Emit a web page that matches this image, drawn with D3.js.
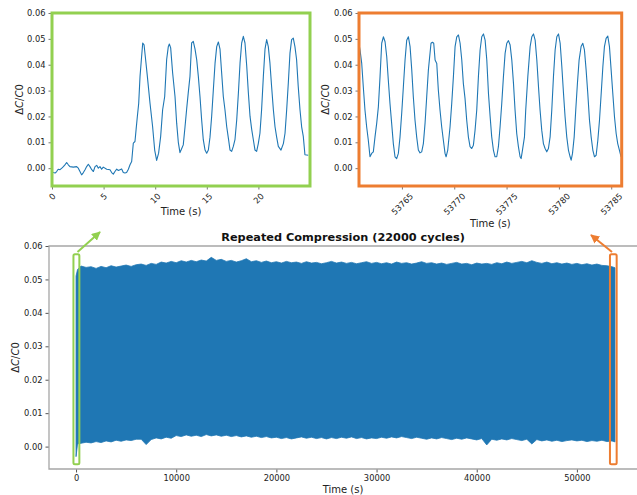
<!DOCTYPE html>
<html>
<head>
<meta charset="utf-8">
<script src="https://cdn.jsdelivr.net/npm/d3@7"></script>
<style>
  body { margin: 0; background: #fff; }
  svg { display: block; font-family: "DejaVu Sans", sans-serif; }
  .tick text { fill: #222; }
</style>
</head>
<body>
<svg id="chart" width="637" height="495"></svg>
<script>
// ---- data ----
// whole run: sampled envelope of the dense oscillation (time in s)
const mainTime = [0, 150, 500, 1000, 1500, 2000, 2500, 3000, 3500, 4000, 4500, 5000, 5500, 6000, 6500, 7000, 7500, 8000, 8500, 9000, 9500,
  10000, 10500, 11000, 11500, 12000, 12500, 13000, 13500, 14000, 14500, 15000, 15500, 16000, 16500, 17000, 17500, 18000, 18500, 19000, 19500,
  20000, 20500, 21000, 21500, 22000, 22500, 23000, 23500, 24000, 24500, 25000, 25500, 26000, 26500, 27000, 27500, 28000, 28500, 29000, 29500,
  30000, 30500, 31000, 31500, 32000, 32500, 33000, 33500, 34000, 34500, 35000, 35500, 36000, 36500, 37000, 37500, 38000, 38500, 39000, 39500,
  40000, 40500, 41000, 41500, 42000, 42500, 43000, 43500, 44000, 44500, 45000, 45500, 46000, 46500, 47000, 47500, 48000, 48500, 49000, 49500,
  50000, 50500, 51000, 51500, 52000, 52500, 53000, 53500, 53800];
const mainUpper = [0.0510, 0.0530, 0.0540, 0.0536, 0.0538, 0.0533, 0.0539, 0.0535, 0.0541, 0.0537, 0.0540, 0.0543, 0.0539, 0.0544, 0.0546, 0.0542, 0.0548, 0.0545, 0.0552, 0.0549, 0.0554,
  0.0550, 0.0556, 0.0552, 0.0557, 0.0553, 0.0558, 0.0555, 0.0566, 0.0557, 0.0560, 0.0554, 0.0557, 0.0552, 0.0556, 0.0562, 0.0553, 0.0556, 0.0551, 0.0555, 0.0550,
  0.0553, 0.0549, 0.0554, 0.0550, 0.0552, 0.0548, 0.0553, 0.0549, 0.0551, 0.0547, 0.0550, 0.0554, 0.0549, 0.0552, 0.0548, 0.0551, 0.0547, 0.0550, 0.0553, 0.0548,
  0.0551, 0.0547, 0.0550, 0.0546, 0.0552, 0.0548, 0.0550, 0.0546, 0.0549, 0.0553, 0.0548, 0.0550, 0.0546, 0.0549, 0.0545, 0.0548, 0.0551, 0.0546, 0.0548, 0.0544,
  0.0549, 0.0546, 0.0548, 0.0545, 0.0550, 0.0547, 0.0552, 0.0548, 0.0551, 0.0554, 0.0550, 0.0556, 0.0551, 0.0548, 0.0552, 0.0547, 0.0550, 0.0546, 0.0549, 0.0545,
  0.0548, 0.0544, 0.0547, 0.0543, 0.0546, 0.0542, 0.0541, 0.0538, 0.0535];
const mainLower = [-0.0030, 0.0008, 0.0010, 0.0013, 0.0011, 0.0015, 0.0012, 0.0017, 0.0014, 0.0019, 0.0016, 0.0020, 0.0018, 0.0022, 0.0022, 0.0006, 0.0021, 0.0026, 0.0023, 0.0028, 0.0025,
  0.0033, 0.0030, 0.0035, 0.0031, 0.0034, 0.0030, 0.0036, 0.0032, 0.0035, 0.0031, 0.0034, 0.0030, 0.0033, 0.0029, 0.0032, 0.0028, 0.0031, 0.0027, 0.0030, 0.0026,
  0.0028, 0.0024, 0.0027, 0.0023, 0.0026, 0.0029, 0.0025, 0.0028, 0.0024, 0.0027, 0.0023, 0.0027, 0.0024, 0.0028, 0.0025, 0.0029, 0.0024, 0.0027, 0.0023, 0.0026,
  0.0024, 0.0028, 0.0025, 0.0029, 0.0026, 0.0030, 0.0027, 0.0024, 0.0028, 0.0025, 0.0022, 0.0026, 0.0023, 0.0027, 0.0024, 0.0021, 0.0025, 0.0022, 0.0026, 0.0023,
  0.0020, 0.0024, 0.0005, 0.0022, 0.0019, 0.0023, 0.0020, 0.0024, 0.0021, 0.0018, 0.0022, 0.0008, 0.0021, 0.0017, 0.0020, 0.0016, 0.0019, 0.0015, 0.0018, 0.0020,
  0.0017, 0.0019, 0.0015, 0.0018, 0.0016, 0.0019, 0.0015, 0.0017, 0.0014];

// first seconds of the run (left inset)
const startTime = [0.00, 0.13, 0.30, 0.45, 0.60, 0.78, 0.95, 1.10, 1.25, 1.42, 1.58, 1.74, 2.07, 2.39, 2.55, 2.71, 2.87, 3.04, 3.20, 3.36, 3.52, 3.68, 3.85, 4.01,
  4.17, 4.33, 4.49, 4.65, 4.81, 4.97, 5.30, 5.62, 5.78, 5.94, 6.10, 6.27, 6.43, 6.59, 6.75, 6.91, 7.07, 7.23, 7.40, 7.56, 7.72, 7.88, 8.04, 8.15, 8.27, 8.40,
  8.53, 8.66, 8.79, 8.92, 9.04, 9.24, 9.50, 9.75, 9.95, 10.14, 10.33, 10.53, 10.72, 10.92, 11.11, 11.27, 11.37, 11.50, 11.69, 11.92, 12.08, 12.24, 12.40, 12.56,
  12.72, 12.89, 13.05, 13.20, 13.37, 13.53, 13.69, 13.86, 14.02, 14.18, 14.34, 14.50, 14.66, 14.83, 14.99, 15.15, 15.31, 15.47, 15.63, 15.80, 15.96, 16.12, 16.28,
  16.44, 16.60, 16.76, 16.93, 17.09, 17.25, 17.41, 17.57, 17.73, 17.90, 18.06, 18.22, 18.38, 18.54, 18.70, 18.87, 19.03, 19.19, 19.35, 19.51, 19.67, 19.83, 19.99,
  20.15, 20.31, 20.48, 20.64, 20.80, 20.96, 21.12, 21.28, 21.45, 21.61, 21.77, 21.93, 22.19, 22.42, 22.58, 22.74, 22.90, 23.06, 23.22, 23.38, 23.54, 23.70, 23.86,
  24.03, 24.19, 24.35, 24.51, 24.83];
const startDelta = [-0.0015, -0.0017, -0.0019, -0.0013, -0.0004, -0.0006, 0.0000, 0.0006, 0.0013, 0.0022, 0.0013, 0.0006, 0.0004, 0.0006, 0.0000, -0.0013, -0.0026, -0.0017, -0.0006, 0.0006, 0.0015, 0.0006, -0.0006, -0.0013,
  0.0006, 0.0011, 0.0000, 0.0006, -0.0004, 0.0004, -0.0004, -0.0006, -0.0017, -0.0023, -0.0013, -0.0004, -0.0009, -0.0006, -0.0003, -0.0017, -0.0019, -0.0017, -0.0004, 0.0013, 0.0026, 0.0097, 0.0103, 0.0150, 0.0200, 0.0250,
  0.0355, 0.0420, 0.0484, 0.0477, 0.0432, 0.0355, 0.0250, 0.0160, 0.0070, 0.0030, 0.0058, 0.0123, 0.0226, 0.0277, 0.0420, 0.0470, 0.0480, 0.0465, 0.0368, 0.0277, 0.0174, 0.0100, 0.0060, 0.0075,
  0.0090, 0.0160, 0.0230, 0.0290, 0.0355, 0.0484, 0.0490, 0.0460, 0.0420, 0.0355, 0.0277, 0.0187, 0.0110, 0.0070, 0.0058, 0.0070, 0.0120, 0.0200, 0.0300, 0.0406, 0.0470, 0.0488, 0.0460,
  0.0368, 0.0277, 0.0226, 0.0160, 0.0116, 0.0070, 0.0065, 0.0084, 0.0110, 0.0187, 0.0290, 0.0406, 0.0484, 0.0510, 0.0484, 0.0394, 0.0290, 0.0200, 0.0150, 0.0110, 0.0070, 0.0065, 0.0095,
  0.0135, 0.0226, 0.0355, 0.0460, 0.0497, 0.0470, 0.0406, 0.0316, 0.0226, 0.0160, 0.0120, 0.0084, 0.0070, 0.0095, 0.0135, 0.0226, 0.0330, 0.0445, 0.0497, 0.0503, 0.0470, 0.0420, 0.0316,
  0.0226, 0.0160, 0.0123, 0.0052, 0.0050];

// last seconds of the run (right inset)
const endTime = [53760.90, 53761.00, 53761.16, 53761.31, 53761.47, 53761.63, 53761.79, 53761.95, 53762.11, 53762.27, 53762.43, 53762.59, 53762.75, 53762.91,
  53763.07, 53763.23, 53763.39, 53763.55, 53763.70, 53763.86, 53764.02, 53764.18, 53764.34, 53764.50, 53764.66, 53764.82, 53764.98, 53765.14, 53765.30,
  53765.46, 53765.62, 53765.78, 53765.94, 53766.09, 53766.25, 53766.41, 53766.57, 53766.73, 53766.89, 53767.05, 53767.21, 53767.37, 53767.53, 53767.78,
  53767.91, 53768.04, 53768.17, 53768.33, 53768.48, 53768.64, 53768.80, 53768.96, 53769.12, 53769.22, 53769.38, 53769.60, 53769.76, 53769.92, 53770.08,
  53770.24, 53770.40, 53770.56, 53770.72, 53770.87, 53771.03, 53771.19, 53771.35, 53771.51, 53771.67, 53771.83, 53771.99, 53772.15, 53772.31, 53772.47,
  53772.63, 53772.79, 53772.95, 53773.11, 53773.27, 53773.43, 53773.58, 53773.74, 53773.90, 53774.06, 53774.22, 53774.38, 53774.54, 53774.70, 53774.86,
  53775.02, 53775.18, 53775.34, 53775.50, 53775.66, 53775.81, 53775.97, 53776.13, 53776.29, 53776.39, 53776.52, 53776.71, 53776.83, 53777.03, 53777.25,
  53777.41, 53777.57, 53777.73, 53777.89, 53778.05, 53778.20, 53778.36, 53778.52, 53778.68, 53778.84, 53779.00, 53779.16, 53779.32, 53779.48, 53779.64,
  53779.80, 53779.96, 53780.12, 53780.28, 53780.44, 53780.59, 53780.75, 53780.91, 53781.07, 53781.17, 53781.30, 53781.46, 53781.61, 53781.77, 53781.93,
  53782.12, 53782.28, 53782.44, 53782.60, 53782.76, 53782.92, 53783.08, 53783.24, 53783.40, 53783.56, 53783.72, 53783.88, 53784.04, 53784.20, 53784.35,
  53784.51, 53784.67, 53784.83, 53784.99, 53785.15, 53785.31, 53785.47, 53785.62, 53785.78, 53785.94];
const endDelta = [0.0480, 0.0457, 0.0405, 0.0315, 0.0225, 0.0160, 0.0108, 0.0044, 0.0057, 0.0063, 0.0121, 0.0173, 0.0237, 0.0354,
  0.0483, 0.0508, 0.0489, 0.0431, 0.0341, 0.0250, 0.0173, 0.0095, 0.0044, 0.0037, 0.0057, 0.0121, 0.0212, 0.0315, 0.0418,
  0.0495, 0.0508, 0.0470, 0.0380, 0.0276, 0.0186, 0.0121, 0.0070, 0.0059, 0.0063, 0.0095, 0.0173, 0.0276, 0.0380, 0.0483,
  0.0487, 0.0483, 0.0418, 0.0405, 0.0302, 0.0225, 0.0160, 0.0108, 0.0057, 0.0044, 0.0070, 0.0160, 0.0250, 0.0354, 0.0470,
  0.0508, 0.0515, 0.0483, 0.0418, 0.0328, 0.0270, 0.0186, 0.0121, 0.0083, 0.0076, 0.0089, 0.0147, 0.0225, 0.0354, 0.0457,
  0.0508, 0.0519, 0.0495, 0.0418, 0.0289, 0.0199, 0.0121, 0.0070, 0.0044, 0.0044, 0.0083, 0.0160, 0.0250, 0.0354, 0.0444,
  0.0483, 0.0493, 0.0476, 0.0418, 0.0328, 0.0225, 0.0134, 0.0083, 0.0044, 0.0037, 0.0070, 0.0121, 0.0225, 0.0354, 0.0470,
  0.0508, 0.0519, 0.0495, 0.0418, 0.0315, 0.0225, 0.0147, 0.0095, 0.0076, 0.0063, 0.0076, 0.0121, 0.0225, 0.0354, 0.0457,
  0.0508, 0.0519, 0.0483, 0.0392, 0.0289, 0.0199, 0.0121, 0.0070, 0.0044, 0.0031, 0.0057, 0.0121, 0.0225, 0.0328, 0.0418,
  0.0470, 0.0483, 0.0457, 0.0380, 0.0289, 0.0186, 0.0121, 0.0070, 0.0044, 0.0050, 0.0108, 0.0186, 0.0289, 0.0392, 0.0470,
  0.0502, 0.0511, 0.0470, 0.0380, 0.0289, 0.0199, 0.0134, 0.0095, 0.0070, 0.0044];

const mainTicksX = [0, 10000, 20000, 30000, 40000, 50000];
const deltaTicks = [0.00, 0.01, 0.02, 0.03, 0.04, 0.05, 0.06];
const startTicksX = [0, 5, 10, 15, 20];
const endTicksX = [53765, 53770, 53775, 53780, 53785];

// ---- styling ----
const lineColor = '#1f77b4';
const green = '#92d050';
const orange = '#ed7d31';
const tickFont = 8.3;

const svg = d3.select('#chart');

// draw a mathtext-like "ΔC/C0" label
function deltaLabel(g, x, y) {
  const t = g.append('text')
    .attr('transform', `translate(${x},${y}) rotate(-90)`)
    .attr('text-anchor', 'middle')
    .attr('font-size', 10)
    .attr('fill', '#222');
  t.append('tspan').text('Δ');
  t.append('tspan').attr('font-style', 'italic').text('C');
  t.append('tspan').text('/');
  t.append('tspan').attr('font-style', 'italic').text('C');
  t.append('tspan').text('0');
}

function styleAxis(sel, color) {
  sel.select('.domain').remove();
  sel.selectAll('.tick line').attr('stroke', color);
  sel.selectAll('.tick text').attr('font-size', tickFont).attr('font-family', 'DejaVu Sans');
}

// rotated tick labels, centred on tick like matplotlib rotation=45
function rotateLabels(sel) {
  sel.selectAll('.tick text').each(function () {
    const w = this.getComputedTextLength();
    const off = 6 + (w + tickFont) * 0.7071 / 2;
    d3.select(this)
      .attr('y', 0)
      .attr('dy', '0.32em')
      .attr('text-anchor', 'middle')
      .attr('transform', `translate(0,${off}) rotate(-45)`);
  });
}

// ---- main chart ----
const mx = d3.scaleLinear().domain([-2700, 56000]).range([49, 637]);
const my = d3.scaleLinear().domain([-0.0067, 0.06]).range([469, 246]);

const mainRows = mainTime.map((t, i) => ({ t, hi: mainUpper[i], lo: mainLower[i] }));

svg.append('path')
  .datum(mainRows)
  .attr('d', d3.area().x((d) => mx(d.t)).y0((d) => my(d.lo)).y1((d) => my(d.hi)))
  .attr('fill', lineColor)
  .attr('stroke', lineColor)
  .attr('stroke-width', 0.8);

svg.append('g')
  .attr('transform', 'translate(0,469)')
  .call(d3.axisBottom(mx).tickValues(mainTicksX).tickFormat(d3.format('d')).tickSize(3.5).tickPadding(3))
  .call((g) => styleAxis(g, '#555'));

svg.append('g')
  .attr('transform', 'translate(49,0)')
  .call(d3.axisLeft(my).tickValues(deltaTicks).tickFormat(d3.format('.2f')).tickSize(3.5).tickPadding(3))
  .call((g) => styleAxis(g, '#555'));

// spines (left, top, bottom)
svg.append('path')
  .attr('d', 'M637,246H49V469H637')
  .attr('fill', 'none')
  .attr('stroke', '#a6a6a6')
  .attr('stroke-width', 1.3);

svg.append('text')
  .attr('x', 343).attr('y', 241)
  .attr('text-anchor', 'middle')
  .attr('font-size', 11.3)
  .attr('font-weight', 'bold')
  .attr('fill', '#111')
  .text('Repeated Compression (22000 cycles)');

svg.append('text')
  .attr('x', 343).attr('y', 493)
  .attr('text-anchor', 'middle')
  .attr('font-size', 10)
  .attr('fill', '#222')
  .text('Time (s)');

deltaLabel(svg, 19, 357.5);

// highlight boxes on the main chart
const boxes = [
  { t0: -260, t1: 330, color: green },
  { t0: 53300, t1: 53970, color: orange },
];
boxes.forEach((b) => {
  svg.append('rect')
    .attr('x', mx(b.t0)).attr('y', my(0.0575))
    .attr('width', mx(b.t1) - mx(b.t0))
    .attr('height', my(-0.0053) - my(0.0575))
    .attr('rx', 1.5)
    .attr('fill', 'none')
    .attr('stroke', b.color)
    .attr('stroke-width', 2);
});

// arrows to the insets
const defs = svg.append('defs');
[['arrG', green], ['arrO', orange]].forEach(([id, c]) => {
  defs.append('marker')
    .attr('id', id)
    .attr('viewBox', '0 0 10 10')
    .attr('refX', 9).attr('refY', 5)
    .attr('markerWidth', 4.5).attr('markerHeight', 4.5)
    .attr('markerUnits', 'strokeWidth')
    .attr('orient', 'auto')
    .append('path')
    .attr('d', 'M0,0L10,5L0,10z')
    .attr('fill', c);
});
svg.append('line')
  .attr('x1', 77.5).attr('y1', 252).attr('x2', 100).attr('y2', 232)
  .attr('stroke', green).attr('stroke-width', 2).attr('marker-end', 'url(#arrG)');
svg.append('line')
  .attr('x1', 612).attr('y1', 252).attr('x2', 591).attr('y2', 235)
  .attr('stroke', orange).attr('stroke-width', 2).attr('marker-end', 'url(#arrO)');

// ---- insets ----
function drawInset(opts) {
  const { x0, x1, domain, times, values, ticks, color, clipId, labelX, labelY, yLabelX } = opts;
  const x = d3.scaleLinear().domain(domain).range([x0, x1]);
  const y = d3.scaleLinear().domain([-0.0069, 0.06]).range([186, 13]);

  defs.append('clipPath').attr('id', clipId)
    .append('rect').attr('x', x0).attr('y', 13).attr('width', x1 - x0).attr('height', 173);

  const pts = times.map((t, i) => [t, values[i]]);
  svg.append('path')
    .datum(pts)
    .attr('clip-path', `url(#${clipId})`)
    .attr('d', d3.line().x((d) => x(d[0])).y((d) => y(d[1])))
    .attr('fill', 'none')
    .attr('stroke', lineColor)
    .attr('stroke-width', 1.1)
    .attr('stroke-linejoin', 'round');

  svg.append('g')
    .attr('transform', 'translate(0,186)')
    .call(d3.axisBottom(x).tickValues(ticks).tickFormat(d3.format('d')).tickSize(3.5))
    .call((g) => styleAxis(g, '#777'))
    .call(rotateLabels);

  svg.append('g')
    .attr('transform', `translate(${x0},0)`)
    .call(d3.axisLeft(y).tickValues(deltaTicks).tickFormat(d3.format('.2f')).tickSize(3.5).tickPadding(3))
    .call((g) => styleAxis(g, '#777'));

  svg.append('rect')
    .attr('x', x0).attr('y', 13)
    .attr('width', x1 - x0).attr('height', 173)
    .attr('fill', 'none')
    .attr('stroke', color)
    .attr('stroke-width', 3);

  svg.append('text')
    .attr('x', (x0 + x1) / 2).attr('y', labelY)
    .attr('text-anchor', 'middle')
    .attr('font-size', 10)
    .attr('fill', '#222')
    .text('Time (s)');

  deltaLabel(svg, yLabelX, 99.5);
}

drawInset({
  x0: 52, x1: 310, domain: [0, 25], times: startTime, values: startDelta,
  ticks: startTicksX, color: green, clipId: 'clipL', labelY: 215, yLabelX: 23,
});
drawInset({
  x0: 359, x1: 621.7, domain: [53760.9, 53786], times: endTime, values: endDelta,
  ticks: endTicksX, color: orange, clipId: 'clipR', labelY: 227, yLabelX: 329,
});
</script>
</body>
</html>
